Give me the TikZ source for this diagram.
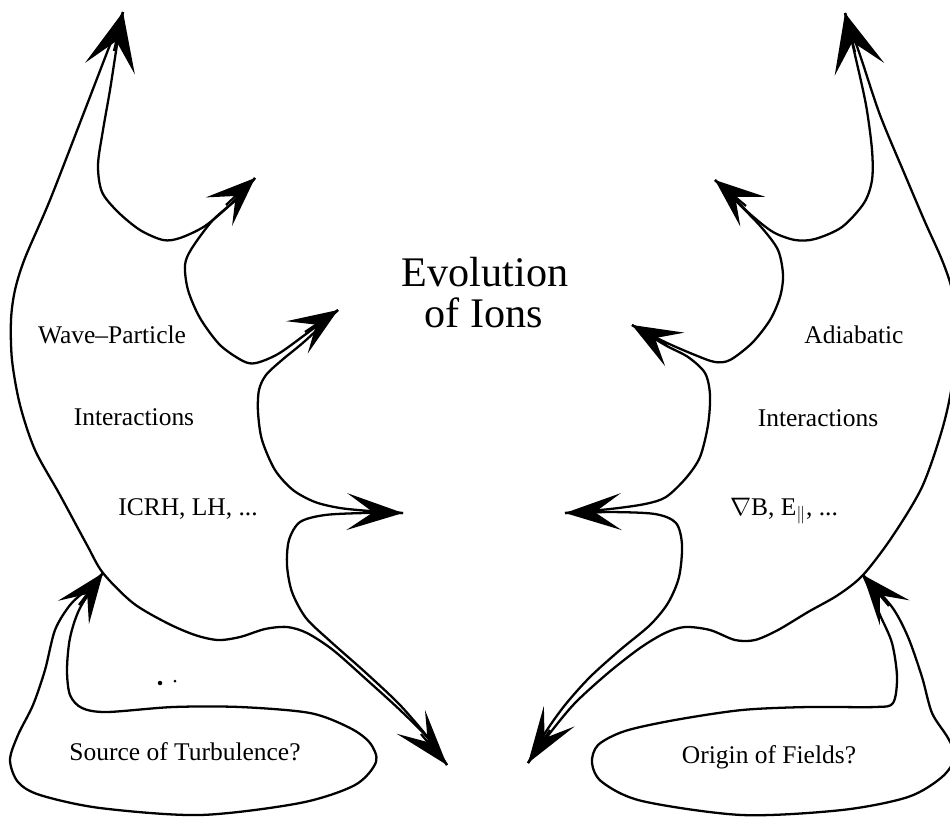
\documentclass[tikz,border=0pt]{standalone}
\usepackage{fontspec}
\setmainfont{Liberation Serif}
\usetikzlibrary{arrows.meta}
\tikzset{
  outline/.style={line width=1.3pt, line join=round},
  spike/.style={line width=1.3pt, -{Stealth[length=28pt, width=22pt, inset=13pt]}},
  longspike/.style={line width=1.3pt, -{Stealth[length=32pt, width=21pt, inset=15pt]}},
  bigspike/.style={line width=1.3pt, -{Stealth[length=33pt, width=29pt, inset=16pt]}},
  blobtext/.style={anchor=base, inner sep=0pt, font=\fontsize{14.5}{16}\selectfont},
  evotext/.style={anchor=base, inner sep=0pt, font=\fontsize{24}{22}\selectfont},
}

\begin{document}
\begin{tikzpicture}[x=0.2mm, y=-0.2mm]
  \useasboundingbox (0,0) rectangle (950,819);
  \clip (0,0) rectangle (950,819);

  % tips of the wave-particle side
  \coordinate (W1) at (123,12);   \coordinate (W1b) at (114,51);
  \coordinate (W2) at (255,178);  \coordinate (W2b) at (226,205);
  \coordinate (W3) at (338,310);  \coordinate (W3b) at (305,332);
  \coordinate (W4) at (403,513);  \coordinate (W4b) at (363,512);
  \coordinate (W5) at (447,765);  \coordinate (W5b) at (421,734);
  \coordinate (WS) at (103,573);  \coordinate (WSb) at (79,605);
  % tips of the adiabatic side
  \coordinate (A1) at (845,13);   \coordinate (A1b) at (855,52);
  \coordinate (A2) at (715,180);  \coordinate (A2b) at (746,206);
  \coordinate (A3) at (632,325);  \coordinate (A3b) at (667,345);
  \coordinate (A4) at (565,513);  \coordinate (A4b) at (605,512);
  \coordinate (A5) at (528,763);  \coordinate (A5b) at (550,730);
  \coordinate (AS) at (863,575);  \coordinate (ASb) at (889,606);

  \draw[outline] plot[smooth] coordinates {(W5) (428,738) (400,710) (367,680) (333,650) (307,633)
    (287,627) (265,629) (240,637) (218,640) (195,635) (167,623) (133,603) (WS) (87,545) (60,495)
    (35,450) (20,405) (12,360) (11,320) (15,290) (25,258) (50,200) (83,115) (108,50) (W1)};
  \draw[outline] plot[smooth] coordinates {(W1) (117,45) (110,90) (103,130) (98,165) (102,192)
    (118,212) (140,230) (163,240) (180,238) (205,226) (232,203) (W2)};
  \draw[outline] plot[smooth] coordinates {(W2) (238,198) (213,220) (192,248) (185,265) (188,290)
    (200,318) (220,345) (243,361) (256,363) (278,354) (306,334) (W3)};
  \draw[outline] plot[smooth] coordinates {(W3) (305,341) (282,360) (266,375) (259,390) (258,412)
    (262,440) (275,470) (293,490) (315,502) (340,508) (370,511) (W4)};
  \draw[outline] plot[smooth] coordinates {(W4) (365,513) (325,515) (300,522) (289,540) (287,565)
    (292,592) (306,618) (330,641) (365,672) (400,705) (430,740) (W5)};
  \draw[outline] plot[smooth] coordinates {(WS) (86,590) (70,605) (55,630) (45,670) (33,705)
    (18,735) (10,760) (18,782) (40,795) (100,808) (200,815) (300,803) (355,785) (376,762)
    (370,743) (350,728) (310,713) (240,707) (173,707) (107,712) (82,708) (70,695) (67,670)
    (70,638) (80,608) (WS)};

  \draw[outline] plot[smooth] coordinates {(A5) (550,733) (575,703) (608,673) (640,648) (665,633)
    (685,627) (710,630) (735,640) (755,640) (778,630) (808,612) (838,595) (AS) (892,537)
    (922,487) (942,430) (952,385) (957,330) (952,290) (942,260) (925,222) (905,175) (880,115)
    (860,55) (A1)};
  \draw[outline] plot[smooth] coordinates {(A1) (855,55) (866,105) (872,150) (872,180) (864,203)
    (842,227) (815,239) (795,240) (773,232) (750,214) (732,196) (A2)};
  \draw[outline] plot[smooth] coordinates {(A2) (740,205) (762,228) (778,250) (783,275) (780,297)
    (770,320) (752,343) (730,360) (715,362) (695,355) (665,342) (A3)};
  \draw[outline] plot[smooth] coordinates {(A3) (665,345) (688,357) (705,373) (710,395) (708,425)
    (700,457) (686,478) (666,497) (645,504) (610,509) (A4)};
  \draw[outline] plot[smooth] coordinates {(A4) (610,512) (655,514) (676,523) (682,545) (679,577)
    (668,603) (650,625) (620,650) (590,677) (565,705) (545,733) (A5)};
  \draw[outline] plot[smooth] coordinates {(AS) (872,595) (880,615) (892,643) (897,677) (893,703)
    (875,707) (808,707) (742,710) (675,720) (625,731) (598,745) (592,763) (602,782) (642,801)
    (742,815) (842,810) (908,797) (942,777) (955,757) (948,738) (932,713) (922,677) (908,637)
    (892,607) (AS)};

  \draw[bigspike] (W1b) -- (W1);
  \draw[spike] (W2b) -- (W2);
  \draw[spike] (W3b) -- (W3);
  \draw[longspike] (W4b) -- (W4);
  \draw[longspike] (W5b) -- (W5);
  \draw[spike] (WSb) -- (WS);
  \draw[bigspike] (A1b) -- (A1);
  \draw[spike] (A2b) -- (A2);
  \draw[spike] (A3b) -- (A3);
  \draw[longspike] (A4b) -- (A4);
  \draw[longspike] (A5b) -- (A5);
  \draw[spike] (ASb) -- (AS);

  \fill (160,683) circle[radius=0.45mm];
  \fill (175,681) circle[radius=0.3mm];

  \node[evotext]  (EVO)   at (485,286) {Evolution};
  \node[evotext]  (IONS)  at (484,327) {of Ions};
  \node[blobtext] (WAVE)  at (112,343) {Wave--Particle};
  \node[blobtext] (INTL)  at (134,425) {Interactions};
  \node[blobtext] (ICRH)  at (188,515) {ICRH, LH, ...};
  \node[blobtext] (ADIA)  at (854,343) {Adiabatic};
  \node[blobtext] (INTR)  at (818,426) {Interactions};
  \node[blobtext] (GRADB) at (784,515) {$\nabla$B, E$_{\|}$, ...};
  \node[blobtext] (SRC)   at (185,760) {Source of Turbulence?};
  \node[blobtext] (ORIG)  at (769,763) {Origin of Fields?};
\end{tikzpicture}
\end{document}
